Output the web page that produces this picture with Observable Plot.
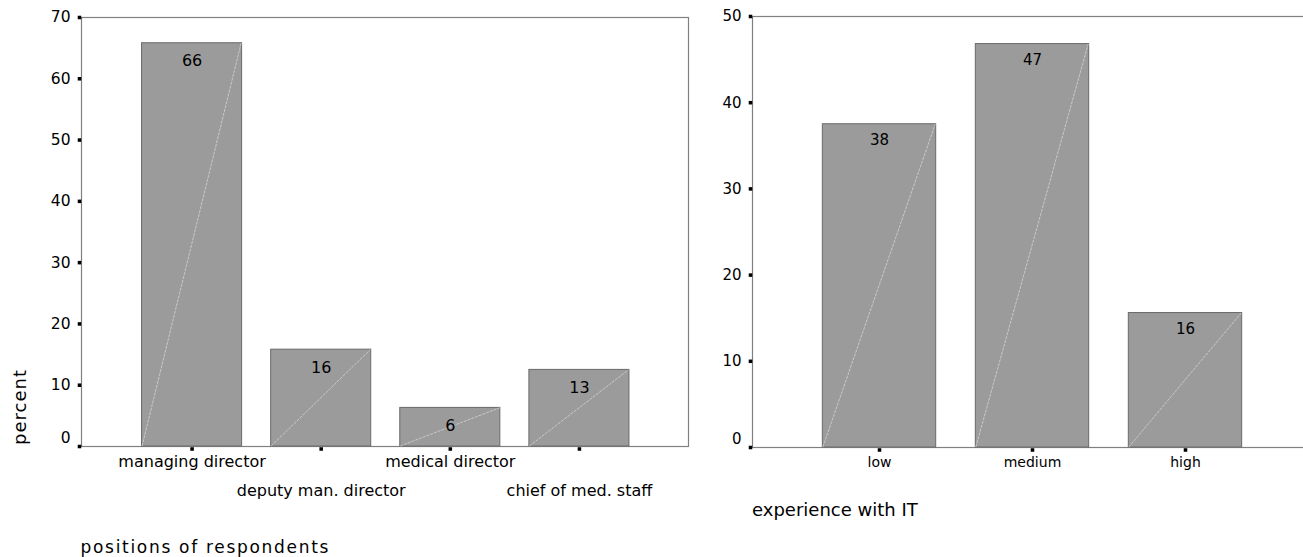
<!DOCTYPE html>
<html>
<head>
<meta charset="utf-8">
<script src="https://cdn.jsdelivr.net/npm/d3@7"></script>
<script src="https://cdn.jsdelivr.net/npm/@observablehq/plot@0.6"></script>
<style>
  html, body { margin: 0; padding: 0; background: #fff; }
  #wrap { position: relative; width: 1303px; height: 557px; overflow: hidden; font-family: "DejaVu Sans", sans-serif; color: #000; }
  .panel { position: absolute; top: 0; }
  .panel svg { max-width: none !important; }
  .title { position: absolute; white-space: nowrap; color: #000; }
</style>
</head>
<body>
<div id="wrap">
  <div id="left" class="panel" style="left:0px; width:700px; height:557px"></div>
  <div id="right" class="panel" style="left:700px; width:620px; height:557px"></div>
  <div class="title" style="left:10.5px; top:445px; font-size:18px; line-height:18px; letter-spacing:1px; transform-origin:left top; transform:rotate(-90deg);">percent</div>
  <div class="title" style="left:80.5px; top:539px; font-size:17px; line-height:17px; letter-spacing:1.7px;">positions of respondents</div>
  <div class="title" style="left:752px; top:501px; font-size:18px; line-height:18px;">experience with IT</div>
</div>
<script>
// ---- data ----
const leftCats = ["managing director", "deputy man. director", "medical director", "chief of med. staff"];
const leftValues = [65.8, 15.8, 6.3, 12.5];
const leftLabels = ["66", "16", "6", "13"];
const leftYTicks = [0, 10, 20, 30, 40, 50, 60, 70];

const rightCats = ["low", "medium", "high"];
const rightValues = [37.5, 46.8, 15.6];
const rightLabels = ["38", "47", "16"];
const rightYTicks = [0, 10, 20, 30, 40, 50];

// ---- styles ----
const BAR_FILL = "#9b9b9b";
const BAR_STROKE = "#6a6a6a";
const FRAME = "#808080";

function diagonals(data) {
  return (index, scales) => {
    const x = scales.x, y = scales.y;
    const g = d3.create("svg:g").attr("aria-label", "diagonals");
    if (!x || !x.bandwidth) return g.node();
    const bw = x.bandwidth();
    for (const d of data) {
      g.append("line")
        .attr("x1", x(d.cat) + 0.5).attr("y1", y(0))
        .attr("x2", x(d.cat) + bw - 0.5).attr("y2", y(d.value) + 0.5)
        .attr("stroke", "#d4d4d4").attr("stroke-width", 0.8)
        .attr("stroke-dasharray", "3,1");
    }
    return g.node();
  };
}

function chart(opts) {
  const {cats, values, labels, yTicks, yMax, width, height, mt, mb, ml, mr, insetL, insetR, padding, tickFont, xFont, valFont, valDy, stagger, xdy1, xdy2} = opts;
  const data = cats.map((c, i) => ({cat: c, value: values[i], label: labels[i], idx: i}));
  const nonZero = yTicks.filter(t => t !== 0);
  const zero = yTicks.filter(t => t === 0);
  const row1 = data.filter(d => !stagger || d.idx % 2 === 0);
  const row2 = data.filter(d => stagger && d.idx % 2 === 1);
  const svg = Plot.plot({
    width, height,
    marginTop: mt, marginBottom: mb, marginLeft: ml, marginRight: mr,
    style: {fontFamily: "DejaVu Sans, sans-serif", background: "transparent", color: "#000", overflow: "visible"},
    x: {domain: cats, padding, insetLeft: insetL, insetRight: insetR, round: false, axis: null},
    y: {domain: [0, yMax], axis: null},
    marks: [
      Plot.frame({stroke: FRAME, strokeWidth: 1.2}),
      Plot.barY(data, {x: "cat", y: "value", fill: BAR_FILL, stroke: BAR_STROKE, strokeWidth: 1}),
      diagonals(data),
      Plot.text(data, {x: "cat", y: "value", text: "label", dy: valDy, fontSize: valFont, fill: "#000"}),
      // y ticks
      Plot.dot(yTicks, {y: d => d, frameAnchor: "left", dx: -2, symbol: "square", r: 2, fill: "#000", stroke: "none"}),
      Plot.text(nonZero, {y: d => d, text: d => String(d), frameAnchor: "left", textAnchor: "end", dx: -11, fontSize: tickFont, fill: "#000"}),
      Plot.text(zero, {y: d => d, text: d => String(d), frameAnchor: "left", textAnchor: "end", dx: -11, dy: -8, fontSize: tickFont, fill: "#000"}),
      // x ticks
      Plot.dot(cats, {x: d => d, frameAnchor: "bottom", dy: 2.5, symbol: "square", r: 2, fill: "#000", stroke: "none"}),
      Plot.text(row1, {x: "cat", text: "cat", frameAnchor: "bottom", dy: xdy1, fontSize: xFont, fill: "#000"}),
      Plot.text(row2, {x: "cat", text: "cat", frameAnchor: "bottom", dy: xdy2, fontSize: xFont, fill: "#000"})
    ]
  });
  svg.style.maxWidth = "none";
  svg.setAttribute("width", width);
  svg.setAttribute("height", height);
  return svg;
}

document.getElementById("left").append(chart({
  cats: leftCats, values: leftValues, labels: leftLabels, yTicks: leftYTicks, yMax: 70,
  width: 700, height: 557, mt: 17, mb: 111, ml: 81, mr: 12,
  insetL: 31.5, insetR: 30, padding: 0.225,
  tickFont: 15.5, xFont: 16, valFont: 16, valDy: 18, stagger: true, xdy1: 20, xdy2: 49
}));

document.getElementById("right").append(chart({
  cats: rightCats, values: rightValues, labels: rightLabels, yTicks: rightYTicks, yMax: 50,
  width: 620, height: 557, mt: 16, mb: 110, ml: 52, mr: 0,
  insetL: 30.7, insetR: 38.7, padding: 0.259,
  tickFont: 15, xFont: 14, valFont: 15, valDy: 16, stagger: false, xdy1: 19, xdy2: 19
}));
</script>
</body>
</html>
